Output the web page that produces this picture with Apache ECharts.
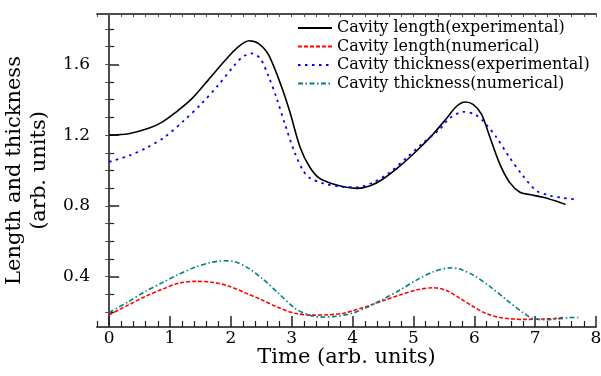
<!DOCTYPE html>
<html>
<head>
<meta charset="utf-8">
<script src="https://cdn.jsdelivr.net/npm/echarts@6/dist/echarts.min.js"></script>
<style>
  html, body { margin: 0; padding: 0; background: #fff; }
  #chart { width: 601px; height: 376px; }
</style>
</head>
<body>
<div id="chart"></div>
<script>
// tick labels
var xTickLabels = [0, 1, 2, 3, 4, 5, 6, 7, 8]
var yTickLabels = [0.4, 0.8, 1.2, 1.6]

// Cavity length (experimental)
var lenExpX = [0, 0.32, 0.65, 0.87, 1.08, 1.36, 1.63, 1.9, 2.12, 2.3, 2.45, 2.62, 2.84, 2.97, 3.14, 3.3, 3.46, 3.68, 3.9, 4.07, 4.29, 4.5, 4.78, 5.05, 5.32, 5.55, 5.71, 5.85, 5.98, 6.12, 6.26, 6.42, 6.58, 6.75, 6.91, 7.13, 7.35, 7.5]
var lenExpY = [1.2, 1.208, 1.238, 1.273, 1.325, 1.406, 1.512, 1.62, 1.698, 1.733, 1.718, 1.653, 1.466, 1.33, 1.129, 1.017, 0.955, 0.924, 0.905, 0.899, 0.914, 0.952, 1.026, 1.11, 1.204, 1.297, 1.363, 1.387, 1.373, 1.317, 1.185, 1.036, 0.933, 0.877, 0.864, 0.849, 0.826, 0.808]

// Cavity length (numerical)
var lenNumX = [0, 0.32, 0.59, 0.87, 1.14, 1.41, 1.69, 1.96, 2.23, 2.51, 2.78, 3.05, 3.33, 3.6, 3.86, 4.01, 4.23, 4.5, 4.78, 5.05, 5.33, 5.55, 5.76, 5.98, 6.2, 6.42, 6.64, 6.86, 7.08, 7.3, 7.46]
var lenNumY = [0.185, 0.241, 0.288, 0.329, 0.363, 0.374, 0.369, 0.348, 0.31, 0.269, 0.226, 0.194, 0.183, 0.185, 0.194, 0.209, 0.232, 0.264, 0.297, 0.325, 0.338, 0.321, 0.279, 0.232, 0.191, 0.17, 0.161, 0.159, 0.161, 0.163, 0.17]

// Cavity thickness (experimental)
var thkExpX = [0, 0.32, 0.62, 0.92, 1.22, 1.52, 1.79, 2.04, 2.18, 2.33, 2.48, 2.62, 2.75, 2.89, 3.05, 3.19, 3.3, 3.52, 3.79, 4.07, 4.34, 4.61, 4.89, 5.16, 5.43, 5.6, 5.82, 6.01, 6.17, 6.37, 6.58, 6.8, 7.02, 7.24, 7.46, 7.67]
var thkExpY = [1.049, 1.083, 1.129, 1.191, 1.279, 1.378, 1.481, 1.587, 1.638, 1.662, 1.634, 1.531, 1.41, 1.26, 1.1, 0.998, 0.957, 0.927, 0.909, 0.905, 0.933, 0.989, 1.073, 1.157, 1.232, 1.297, 1.331, 1.317, 1.27, 1.185, 1.073, 0.97, 0.886, 0.858, 0.845, 0.836]

// Cavity thickness (numerical)
var thkNumX = [0, 0.32, 0.59, 0.87, 1.14, 1.41, 1.69, 1.9, 2.07, 2.29, 2.51, 2.78, 3.05, 3.27, 3.49, 3.71, 3.86, 4.01, 4.23, 4.5, 4.78, 5.05, 5.33, 5.6, 5.76, 5.98, 6.26, 6.53, 6.81, 6.97, 7.19, 7.41, 7.62, 7.71]
var thkNumY = [0.198, 0.26, 0.316, 0.366, 0.413, 0.453, 0.482, 0.49, 0.484, 0.447, 0.391, 0.307, 0.223, 0.185, 0.172, 0.176, 0.183, 0.195, 0.226, 0.273, 0.325, 0.381, 0.428, 0.45, 0.443, 0.41, 0.344, 0.269, 0.195, 0.163, 0.157, 0.163, 0.17, 0.17]

var FONT = 'DejaVu Serif'
var FRAME = '#4d4d4d'
var X_MIN = -0.2, X_MAX = 8
var Y_MIN = 0.116, Y_MAX = 1.884

function pairs(xs, ys) {
  return xs.map(function (x, i) { return [x, ys[i]] })
}

var xMinor = []
for (var i = -1; i <= 40; i++) {
  if (i % 5 !== 0) xMinor.push(i * 0.2)
}
var xAll = []
for (var i = -1; i <= 40; i++) xAll.push(i * 0.2)
var yMinor = []
var yAll = []
for (var j = 2; j <= 18; j++) {
  yAll.push(j / 10)
  if (j % 4 !== 0) yMinor.push(j / 10)
}

var chart = echarts.init(document.getElementById('chart'))

function tickOnly(extra) {
  return Object.assign({
    type: 'value',
    min: X_MIN,
    max: X_MAX,
    axisLine: { show: false },
    axisLabel: { show: false },
    splitLine: { show: false }
  }, extra)
}

chart.setOption({
  animation: false,
  backgroundColor: '#fff',
  grid: { left: 97, top: 14, right: 5, bottom: 49, outerBoundsMode: 'none', containLabel: false },
  legend: {
    orient: 'vertical',
    left: 292,
    top: 15,
    itemWidth: 34,
    itemHeight: 14,
    itemGap: 2.5,
    itemStyle: { opacity: 0 },
    textStyle: { fontFamily: FONT, fontSize: 16, color: '#000', lineHeight: 14 },
    data: [
      'Cavity length(experimental)',
      'Cavity length(numerical)',
      'Cavity thickness(experimental)',
      'Cavity thickness(numerical)'
    ]
  },
  xAxis: [
    {
      type: 'value',
      min: X_MIN,
      max: X_MAX,
      position: 'bottom',
      name: 'Time (arb. units)',
      nameLocation: 'middle',
      nameGap: 20,
      nameMoveOverlap: false,
      nameTextStyle: { fontFamily: FONT, fontSize: 21, color: '#000' },
      axisLine: { lineStyle: { color: FRAME, width: 2 } },
      axisTick: { inside: true, length: 11, customValues: xTickLabels, lineStyle: { color: '#222', width: 1.5 } },
      axisLabel: { customValues: xTickLabels, margin: 3, fontFamily: FONT, fontSize: 17, color: '#000' },
      splitLine: { show: false }
    },
    tickOnly({
      position: 'bottom',
      axisTick: { inside: true, length: 6, customValues: xMinor, lineStyle: { color: '#222', width: 1.2 } }
    }),
    tickOnly({
      position: 'top',
      axisLine: { show: true, lineStyle: { color: FRAME, width: 2 } },
      axisTick: { inside: true, length: 3, customValues: xAll, lineStyle: { color: FRAME, width: 1 } }
    })
  ],
  yAxis: [
    {
      type: 'value',
      min: Y_MIN,
      max: Y_MAX,
      position: 'left',
      name: 'Length and thickness\n(arb. units)',
      nameLocation: 'middle',
      nameRotate: 90,
      nameGap: 40,
      nameTextStyle: { fontFamily: FONT, fontSize: 21, color: '#000', lineHeight: 25 },
      axisLine: { lineStyle: { color: FRAME, width: 2 } },
      axisTick: { inside: true, length: 10, customValues: yTickLabels, lineStyle: { color: '#222', width: 1.5 } },
      axisLabel: {
        customValues: yTickLabels,
        margin: 7,
        fontFamily: FONT,
        fontSize: 17,
        color: '#000',
        formatter: function (v) { return v.toFixed(1) }
      },
      splitLine: { show: false }
    },
    {
      type: 'value',
      min: Y_MIN,
      max: Y_MAX,
      position: 'left',
      axisLine: { show: false },
      axisLabel: { show: false },
      splitLine: { show: false },
      axisTick: { inside: true, length: 5, customValues: yMinor, lineStyle: { color: '#222', width: 1.2 } }
    },
    {
      type: 'value',
      min: Y_MIN,
      max: Y_MAX,
      position: 'right',
      axisLine: { show: true, lineStyle: { color: FRAME, width: 2 } },
      axisLabel: { show: false },
      splitLine: { show: false },
      axisTick: { inside: true, length: 4, customValues: yAll, lineStyle: { color: FRAME, width: 1 } }
    }
  ],
  series: [
    {
      name: 'Cavity length(experimental)',
      type: 'line',
      smooth: 0.3,
      symbol: 'none',
      lineStyle: { color: '#000', width: 1.6, type: 'solid' },
      itemStyle: { color: '#000' },
      data: pairs(lenExpX, lenExpY)
    },
    {
      name: 'Cavity length(numerical)',
      type: 'line',
      smooth: 0.3,
      symbol: 'none',
      lineStyle: { color: '#ff0000', width: 1.6, type: [4, 2] },
      itemStyle: { color: '#ff0000' },
      data: pairs(lenNumX, lenNumY)
    },
    {
      name: 'Cavity thickness(experimental)',
      type: 'line',
      smooth: 0.3,
      symbol: 'none',
      lineStyle: { color: '#0000ff', width: 1.8, type: [2.5, 4.5] },
      itemStyle: { color: '#0000ff' },
      data: pairs(thkExpX, thkExpY)
    },
    {
      name: 'Cavity thickness(numerical)',
      type: 'line',
      smooth: 0.3,
      symbol: 'none',
      lineStyle: { color: '#008080', width: 1.6, type: [5, 2.5, 1.5, 2.5] },
      itemStyle: { color: '#008080' },
      data: pairs(thkNumX, thkNumY)
    }
  ]
})
</script>
</body>
</html>
